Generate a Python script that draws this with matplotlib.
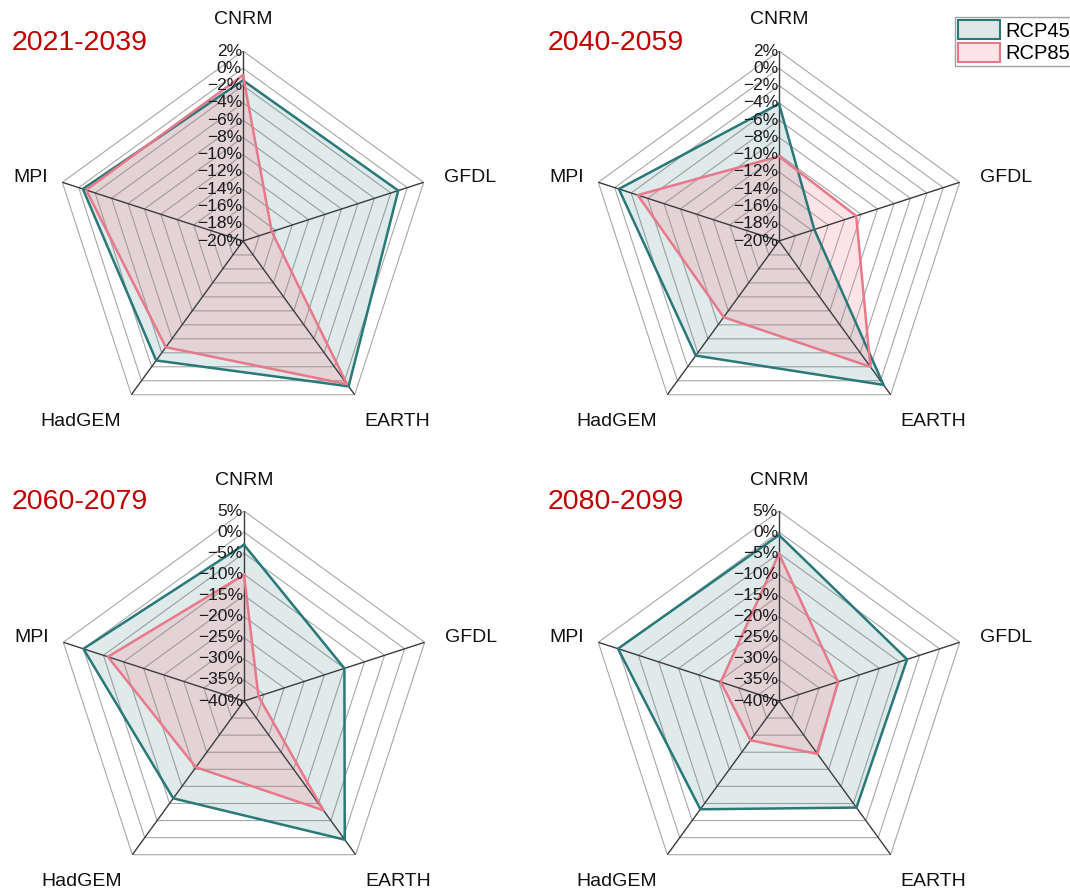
import numpy as np
import matplotlib
matplotlib.use("Agg")
import matplotlib.pyplot as plt
from matplotlib.patches import Patch

plt.rcParams['font.family'] = ['Liberation Sans', 'DejaVu Sans']

# data (percent change)
models = ['CNRM', 'GFDL', 'EARTH', 'HadGEM', 'MPI']
periods = ['2021-2039', '2040-2059', '2060-2079', '2080-2099']

rcp45 = [
    [-1.4, -1.1, 0.8, -2.9, -0.5],
    [-4.1, -15.7, 0.6, -3.6, -0.5],
    [-3.0, -15.0, 0.6, -11.5, 0.0],
    [-0.7, -8.1, -8.8, -8.3, 0.1],
]
rcp85 = [
    [-0.8, -16.5, 0.5, -4.8, -0.9],
    [-10.2, -10.6, -2.0, -9.1, -2.8],
    [-10.1, -36.4, -8.0, -20.6, -6.1],
    [-5.1, -25.3, -24.5, -28.5, -25.5],
]
# axis range (min, max, step) for each panel
ranges = [(-20, 2, 2), (-20, 2, 2), (-40, 5, 5), (-40, 5, 5)]

teal = '#2a7878'
pink = '#e8788a'

fig = plt.figure(figsize=(10.7, 8.92), dpi=100)
W, H = 1070, 892
R = 190
centers = [(243, 241), (779, 241), (244, 701), (779, 701)]
title_pos = [(12, 43), (548, 43), (12, 502), (548, 502)]

angles = np.arange(len(models)) * 2 * np.pi / len(models)
closed = np.append(angles, angles[0])

# label offsets from the outer vertex, pixels
label_off = [(0, 31), (46, 5), (43, -27), (-51, -27), (-32, 5)]

for k in range(4):
    cx, cy = centers[k]
    ax = fig.add_axes([(cx - R) / W, 1 - (cy + R) / H, 2 * R / W, 2 * R / H],
                      projection='polar')
    ax.set_theta_offset(np.pi / 2)
    ax.set_theta_direction(-1)
    lo, hi, step = ranges[k]
    ax.set_ylim(lo, hi)
    ax.grid(False)
    ax.spines['polar'].set_visible(False)
    ax.set_xticks([])
    ax.set_yticks([])
    ax.patch.set_alpha(0)

    ticks = np.arange(lo, hi + step / 2, step)
    for t in ticks[1:]:
        ax.plot(closed, [t] * len(closed), color='#a8a8a8', lw=0.8, zorder=1)
    for a in angles:
        ax.plot([a, a], [lo, hi], color='#3c3c3c', lw=1.0, zorder=4)

    v45 = np.append(rcp45[k], rcp45[k][0])
    v85 = np.append(rcp85[k], rcp85[k][0])
    ax.fill(closed, v45, color=teal, alpha=0.15, lw=0, zorder=2)
    ax.fill(closed, v85, color='#f4778a', alpha=0.2, lw=0, zorder=2)
    ax.plot(closed, v45, color=teal, lw=1.8, zorder=5)
    ax.plot(closed, v85, color=pink, lw=1.8, zorder=5)

    for t in ticks:
        lab = f'{int(t)}%'.replace('-', '\u2212')
        ax.annotate(lab, xy=(0, t), xytext=(-1, 0), textcoords='offset pixels',
                    ha='right', va='center', fontsize=12.5, color='#1a1a1a',
                    zorder=6)

    for i, m in enumerate(models):
        dx, dy = label_off[i]
        ax.annotate(m, xy=(angles[i], hi), xytext=(dx, dy),
                    textcoords='offset pixels', ha='center', va='center',
                    fontsize=14, color='#111111', annotation_clip=False)

    tx, ty = title_pos[k]
    fig.text(tx / W, 1 - ty / H, periods[k], color='#c00000', fontsize=20.5,
             ha='left', va='center')

handles = [Patch(facecolor='#dde7e5', edgecolor=teal, lw=1.5, label='RCP45'),
           Patch(facecolor='#fde4e8', edgecolor=pink, lw=1.5, label='RCP85')]
fig.legend(handles=handles, loc='upper left', bbox_to_anchor=(955 / W, 1 - 17 / H),
           fontsize=14.5, frameon=True, fancybox=False, edgecolor='#888888',
           handlelength=2.1, handleheight=1.1, handletextpad=0.25,
           labelspacing=0.12, borderpad=0.15, borderaxespad=0)

fig.savefig('out.png', dpi=100)
